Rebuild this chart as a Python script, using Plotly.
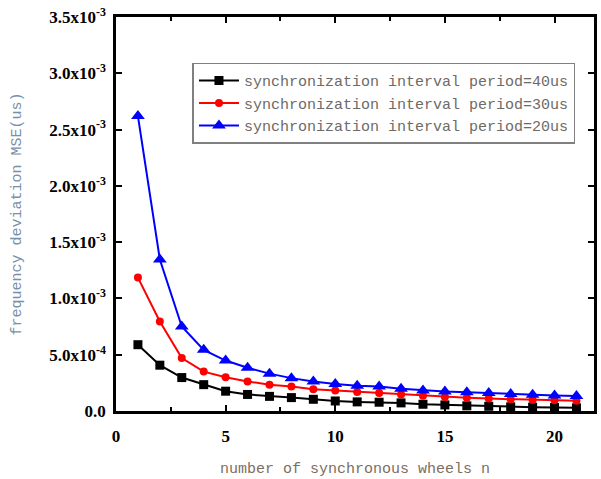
import plotly.graph_objects as go

n = list(range(1, 22))

period_40us = [0.589e-3, 0.407e-3, 0.297e-3, 0.234e-3, 0.176e-3, 0.147e-3, 0.130e-3,
               0.119e-3, 0.104e-3, 0.089e-3, 0.081e-3, 0.078e-3, 0.072e-3, 0.060e-3,
               0.054e-3, 0.046e-3, 0.042e-3, 0.037e-3, 0.034e-3, 0.031e-3, 0.028e-3]
period_30us = [1.185e-3, 0.795e-3, 0.470e-3, 0.350e-3, 0.300e-3, 0.263e-3, 0.234e-3,
               0.217e-3, 0.193e-3, 0.182e-3, 0.168e-3, 0.159e-3, 0.147e-3, 0.136e-3,
               0.124e-3, 0.118e-3, 0.110e-3, 0.104e-3, 0.098e-3, 0.096e-3, 0.090e-3]
period_20us = [2.620e-3, 1.346e-3, 0.751e-3, 0.543e-3, 0.448e-3, 0.384e-3, 0.332e-3,
               0.292e-3, 0.263e-3, 0.240e-3, 0.225e-3, 0.217e-3, 0.197e-3, 0.182e-3,
               0.173e-3, 0.167e-3, 0.159e-3, 0.150e-3, 0.144e-3, 0.138e-3, 0.134e-3]

series_names = ["synchronization interval period=40us",
                "synchronization interval period=30us",
                "synchronization interval period=20us"]

y_tickvals = [0, 0.5e-3, 1.0e-3, 1.5e-3, 2.0e-3, 2.5e-3, 3.0e-3, 3.5e-3]
y_ticktext = ["0.0", "5.0x10<sup>-4</sup>", "1.0x10<sup>-3</sup>", "1.5x10<sup>-3</sup>",
              "2.0x10<sup>-3</sup>", "2.5x10<sup>-3</sup>", "3.0x10<sup>-3</sup>",
              "3.5x10<sup>-3</sup>"]
x_tickvals = [0, 5, 10, 15, 20]

fig = go.Figure()
styles = [("#000000", "square", 9), ("#ff0000", "circle", 8), ("#0000ff", "triangle-up", 12)]
for vals, name, (c, sym, sz) in zip([period_40us, period_30us, period_20us], series_names, styles):
    fig.add_trace(go.Scatter(x=n, y=vals, name=name, mode="lines+markers",
                             line=dict(color=c, width=2),
                             marker=dict(color=c, symbol=sym, size=sz)))

tick_font = dict(family="Liberation Serif", size=17, color="#000000", weight="bold")

fig.update_layout(
    width=601, height=479,
    margin=dict(l=116, r=4, t=17, b=58),
    paper_bgcolor="white", plot_bgcolor="white",
    showlegend=True,
    legend=dict(x=0.16, y=0.884, xanchor="left", yanchor="top",
                bgcolor="white", bordercolor="#808080", borderwidth=1.5,
                font=dict(family="Liberation Mono", size=15, color="#6e6a66"),
                tracegroupgap=0, itemwidth=40),
    xaxis=dict(range=[0, 21.8], tickvals=x_tickvals, ticks="inside", ticklen=6,
               tickwidth=2, tickcolor="black", showline=True, linecolor="black",
               linewidth=2.5, mirror="ticks", showgrid=False, zeroline=False,
               tickfont=tick_font, ticklabelstandoff=8,
               minor=dict(tickvals=[2.5, 7.5, 12.5, 17.5], ticks="inside", ticklen=4,
                          tickwidth=2, tickcolor="black", showgrid=False),
               title=dict(text="number of synchronous wheels n", standoff=18,
                          font=dict(family="Liberation Mono", size=15, color="#7d6e5e"))),
    yaxis=dict(range=[0, 3.5e-3], tickvals=y_tickvals, ticktext=y_ticktext,
               ticks="inside", ticklen=6, tickwidth=2, tickcolor="black",
               showline=True, linecolor="black", linewidth=2.5, mirror="ticks",
               showgrid=False, zeroline=False, tickfont=tick_font, ticklabelstandoff=4,
               title=dict(text="frequency deviation MSE(us)", standoff=24,
                          font=dict(family="Liberation Mono", size=15, color="#7890a8"))),
)

fig.write_html("out.html", config={"displayModeBar": False},
               post_script="document.body.style.margin='0';document.body.style.overflow='hidden';")
